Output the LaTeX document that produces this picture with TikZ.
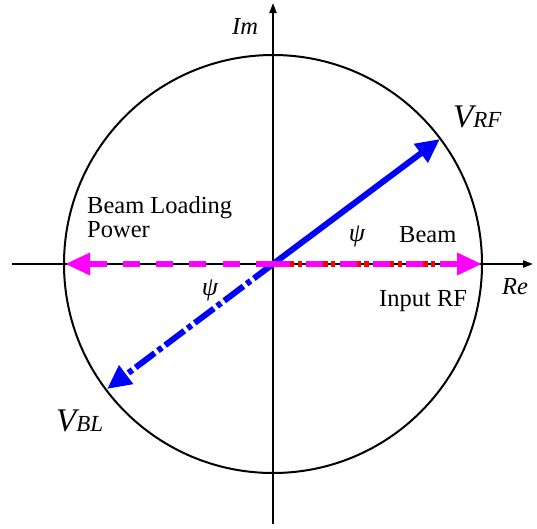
\documentclass[tikz,border=0pt]{standalone}
\usepackage{fontspec}
\setmainfont{Liberation Serif}
\usetikzlibrary{arrows.meta}
\definecolor{vblue}{RGB}{0,0,255}
\definecolor{vmag}{RGB}{255,0,255}
\definecolor{vred}{RGB}{255,0,0}

\begin{document}

\begin{tikzpicture}[x=1pt,y=-1pt,
  axis/.style={line width=2pt,-{Triangle[length=10pt,width=7pt]}},
  vec/.style={vblue,line width=6pt,-{Triangle[length=24pt,width=22pt]}},
  pow/.style={vmag,line width=6.5pt,dash pattern=on 17pt off 16.3pt,-{Triangle[length=25pt,width=21pt]}},
  lbl/.style={inner sep=0pt,anchor=base west,font=\fontsize{24.5}{24}\selectfont}
]
\useasboundingbox (0,0) rectangle (537,528);
\coordinate (O) at (273,264);
\coordinate (L) at (12,264);
\coordinate (R) at (533,264);
\coordinate (B) at (273,524);
\coordinate (T) at (273,3);
\coordinate (Vrf) at (440,139);
\coordinate (Vbl) at (107,389);
\coordinate (PL) at (65,264);
\coordinate (PR) at (482,264);
\coordinate (RedA) at (290,264);
\coordinate (RedB) at (457,264);
\draw[line width=2pt] (O) circle (209pt);
\draw[axis] (L) -- (R);
\draw[axis] (B) -- (T);
\draw[vec] (O) -- (Vrf);
\draw[vec,dash pattern=on 24pt off 4pt on 5pt off 4pt] (O) -- (Vbl);
\draw[vred,line width=6.5pt,dash pattern=on 4.3pt off 3.3pt on 4.3pt off 21.4pt] (RedA) -- (RedB);
\draw[pow] (O) -- (PL);
\draw[pow] (O) -- (PR);
\node[lbl,align=left] (blp) at (87,237) {Beam Loading\\Power};
\node[lbl] (beam) at (399,242) {Beam};
\node[lbl] (inrf) at (379,306) {Input RF};
\node[lbl,anchor=center,font=\fontsize{26}{26}\selectfont\itshape] (psi1) at (357,236) {ψ};
\node[lbl,anchor=center,font=\fontsize{26}{26}\selectfont\itshape] (psi2) at (210,290) {ψ};
\node[lbl,font=\fontsize{24.5}{24}\selectfont\itshape] (im) at (232,34) {Im};
\node[lbl,font=\fontsize{24.5}{24}\selectfont\itshape] (re) at (502,294) {Re};
\node[lbl,font=\fontsize{33}{33}\selectfont\itshape] (vrfl) at (453,127) {V\fontsize{23}{23}\selectfont RF};
\node[lbl,font=\fontsize{33}{33}\selectfont\itshape] (vbll) at (56,431) {V\fontsize{23}{23}\selectfont BL};
\end{tikzpicture}

\end{document}
